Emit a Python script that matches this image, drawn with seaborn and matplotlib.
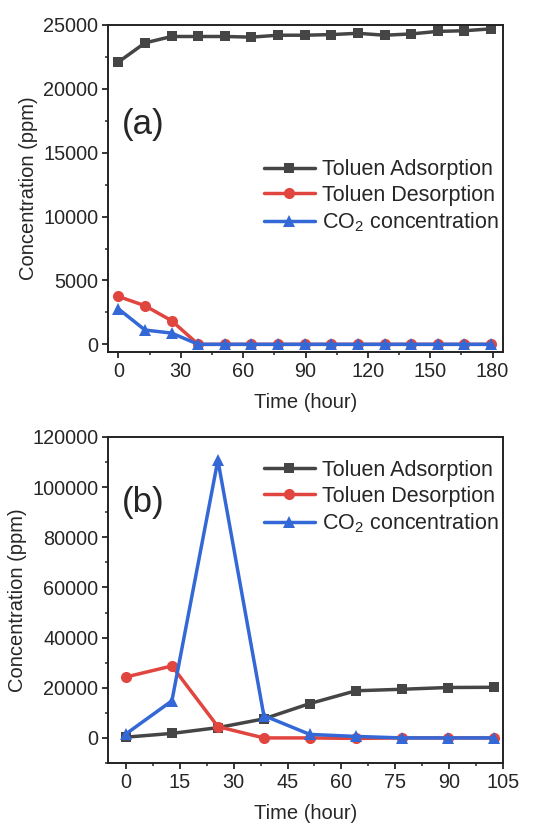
import pandas as pd
import matplotlib
matplotlib.use('Agg')
import matplotlib.pyplot as plt
import seaborn as sns
from matplotlib.ticker import MultipleLocator, AutoMinorLocator

# Panel (a): long run, 15 samples
time_a = [0, 12.8, 25.6, 38.4, 51.2, 64, 76.8, 89.6, 102.4, 115.2, 128, 140.8, 153.6, 166.4, 179.2]
ads_a = [22100, 23600, 24100, 24100, 24100, 24050, 24200, 24200, 24250, 24350, 24200, 24300, 24500, 24550, 24700]
des_a = [3750, 3020, 1850, 0, 0, 0, 0, 0, 0, 0, 0, 0, 0, 0, 0]
co2_a = [2780, 1120, 880, 0, 0, 0, 0, 0, 0, 0, 0, 0, 0, 0, 0]

# Panel (b): 9 samples
time_b = [0, 12.8, 25.6, 38.4, 51.2, 64, 76.8, 89.6, 102.4]
ads_b = [300, 1800, 4100, 7600, 13700, 18800, 19400, 20100, 20200]
des_b = [24300, 28700, 4500, 0, 0, -200, 0, 0, 0]
co2_b = [1600, 14800, 110800, 8900, 1400, 600, 0, 0, 0]

labels = ['Toluen Adsorption', 'Toluen Desorption', 'CO$_\\mathregular{2}$ concentration']
colors = ['#454545', '#E0463F', '#3468D6']
markers = ['s', 'o', '^']
msizes = [7, 8, 8]

sns.set_style('ticks')
plt.rcParams['font.family'] = ['Liberation Sans', 'DejaVu Sans']
plt.rcParams['mathtext.fontset'] = 'custom'
plt.rcParams['mathtext.rm'] = 'Liberation Sans'

fig = plt.figure(figsize=(5.35, 8.27), dpi=100)
W, H = 535, 827
ax1 = fig.add_axes([108 / W, 1 - 352 / H, 395 / W, 327 / H])
ax2 = fig.add_axes([108 / W, 1 - 763 / H, 395 / W, 326 / H])


def draw(ax, t, series, leg_y):
    for vals, lab, c, m, ms in zip(series, labels, colors, markers, msizes):
        df = pd.DataFrame({'time': t, 'conc': vals})
        sns.lineplot(data=df, x='time', y='conc', ax=ax, color=c, marker=m,
                     markersize=ms, markeredgewidth=0, linewidth=2.5, label=lab)
    ax.set_xlabel('Time (hour)', fontsize=14.5, labelpad=9)
    ax.set_ylabel('Concentration (ppm)', fontsize=14.5, labelpad=4)
    for s in ax.spines.values():
        s.set_linewidth(1.4)
        s.set_color('#222222')
    ax.tick_params(which='major', direction='out', length=4, width=1.3, pad=3, labelsize=14.3)
    ax.tick_params(which='minor', direction='out', length=2.5, width=1.1)
    ax.xaxis.set_minor_locator(AutoMinorLocator(2))
    ax.yaxis.set_minor_locator(AutoMinorLocator(2))
    ax.legend(frameon=False, fontsize=15.5, handlelength=2.4, handletextpad=0.3,
              labelspacing=0.22, borderpad=0.2, borderaxespad=0,
              loc='center right', bbox_to_anchor=(1.0, leg_y))


draw(ax1, time_a, [ads_a, des_a, co2_a], 0.475)
ax1.set_xlim(-5, 185)
ax1.set_ylim(-600, 25000)
ax1.xaxis.set_major_locator(MultipleLocator(30))
ax1.yaxis.set_major_locator(MultipleLocator(5000))
ax1.text(0.035, 0.697, '(a)', transform=ax1.transAxes, fontsize=25, va='center')

draw(ax2, time_b, [ads_b, des_b, co2_b], 0.815)
ax2.set_xlim(-5, 105)
ax2.set_ylim(-10000, 120000)
ax2.xaxis.set_major_locator(MultipleLocator(15))
ax2.yaxis.set_major_locator(MultipleLocator(20000))
ax2.text(0.035, 0.80, '(b)', transform=ax2.transAxes, fontsize=25, va='center')

fig.savefig('out.png', dpi=100)
